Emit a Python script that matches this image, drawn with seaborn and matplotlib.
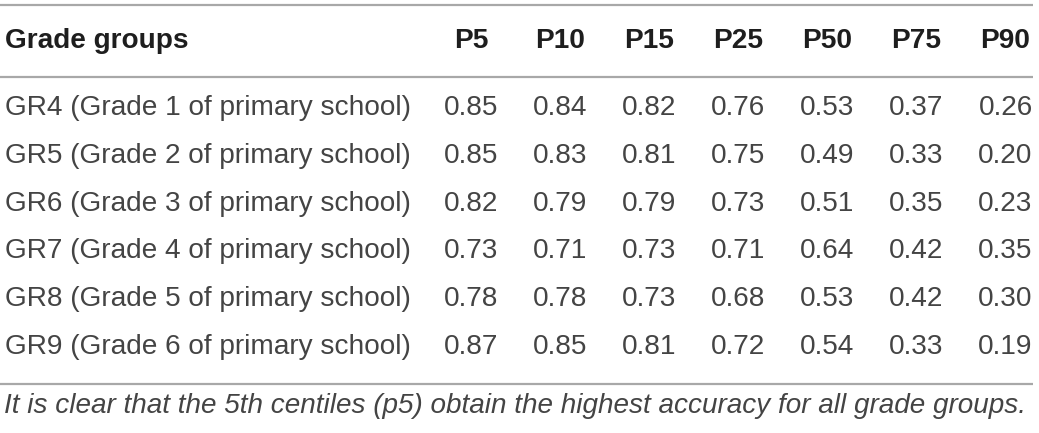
import matplotlib.pyplot as plt
import seaborn as sns
import pandas as pd

groups = ['GR4 (Grade 1 of primary school)', 'GR5 (Grade 2 of primary school)',
          'GR6 (Grade 3 of primary school)', 'GR7 (Grade 4 of primary school)',
          'GR8 (Grade 5 of primary school)', 'GR9 (Grade 6 of primary school)']
centiles = ['P5', 'P10', 'P15', 'P25', 'P50', 'P75', 'P90']
p5 = [0.85, 0.85, 0.82, 0.73, 0.78, 0.87]
p10 = [0.84, 0.83, 0.79, 0.71, 0.78, 0.85]
p15 = [0.82, 0.81, 0.79, 0.73, 0.73, 0.81]
p25 = [0.76, 0.75, 0.73, 0.71, 0.68, 0.72]
p50 = [0.53, 0.49, 0.51, 0.64, 0.53, 0.54]
p75 = [0.37, 0.33, 0.35, 0.42, 0.42, 0.33]
p90 = [0.26, 0.20, 0.23, 0.35, 0.30, 0.19]
note = 'It is clear that the 5th centiles (p5) obtain the highest accuracy for all grade groups.'

df = pd.DataFrame(dict(zip(centiles, [p5, p10, p15, p25, p50, p75, p90])), index=groups)

sns.set_theme(style='white')
plt.rcParams['font.family'] = ['Liberation Sans', 'DejaVu Sans']

fig = plt.figure(figsize=(10.39, 4.33), dpi=100)
ax = fig.add_axes([0, 0, 1, 1])
ax.set_xlim(0, 1039)
ax.set_ylim(433, 0)
ax.axis('off')

col_x = [471, 560.5, 649.5, 738, 827.5, 916.5, 1005.5]
row_y0, row_step = 115, 47.8
fs = 20.2
txt = '#444444'
line = '#a8a8a8'

# rules
for y in [5, 77, 384]:
    ax.plot([0, 1033], [y, y], color=line, lw=1.6, solid_capstyle='butt')

# header
ax.text(5, 47.5, 'Grade groups', fontsize=fs, fontweight='bold', color='#1e1e1e',
        ha='left', va='baseline')
for x, c in zip(col_x, centiles):
    ax.text(x, 47.5, c, fontsize=fs, fontweight='bold', color='#1e1e1e',
            ha='center', va='baseline')

# body
for i, g in enumerate(df.index):
    y = row_y0 + i * row_step
    ax.text(5, y, g, fontsize=fs, color=txt, ha='left', va='baseline')
    for x, c in zip(col_x, centiles):
        ax.text(x, y, f'{df.loc[g, c]:.2f}', fontsize=fs,
                color=txt, ha='center', va='baseline')

ax.text(4, 413, note, fontsize=20.1, fontstyle='italic',
        color=txt, ha='left', va='baseline')

fig.savefig('out.png', dpi=100, facecolor='white')
